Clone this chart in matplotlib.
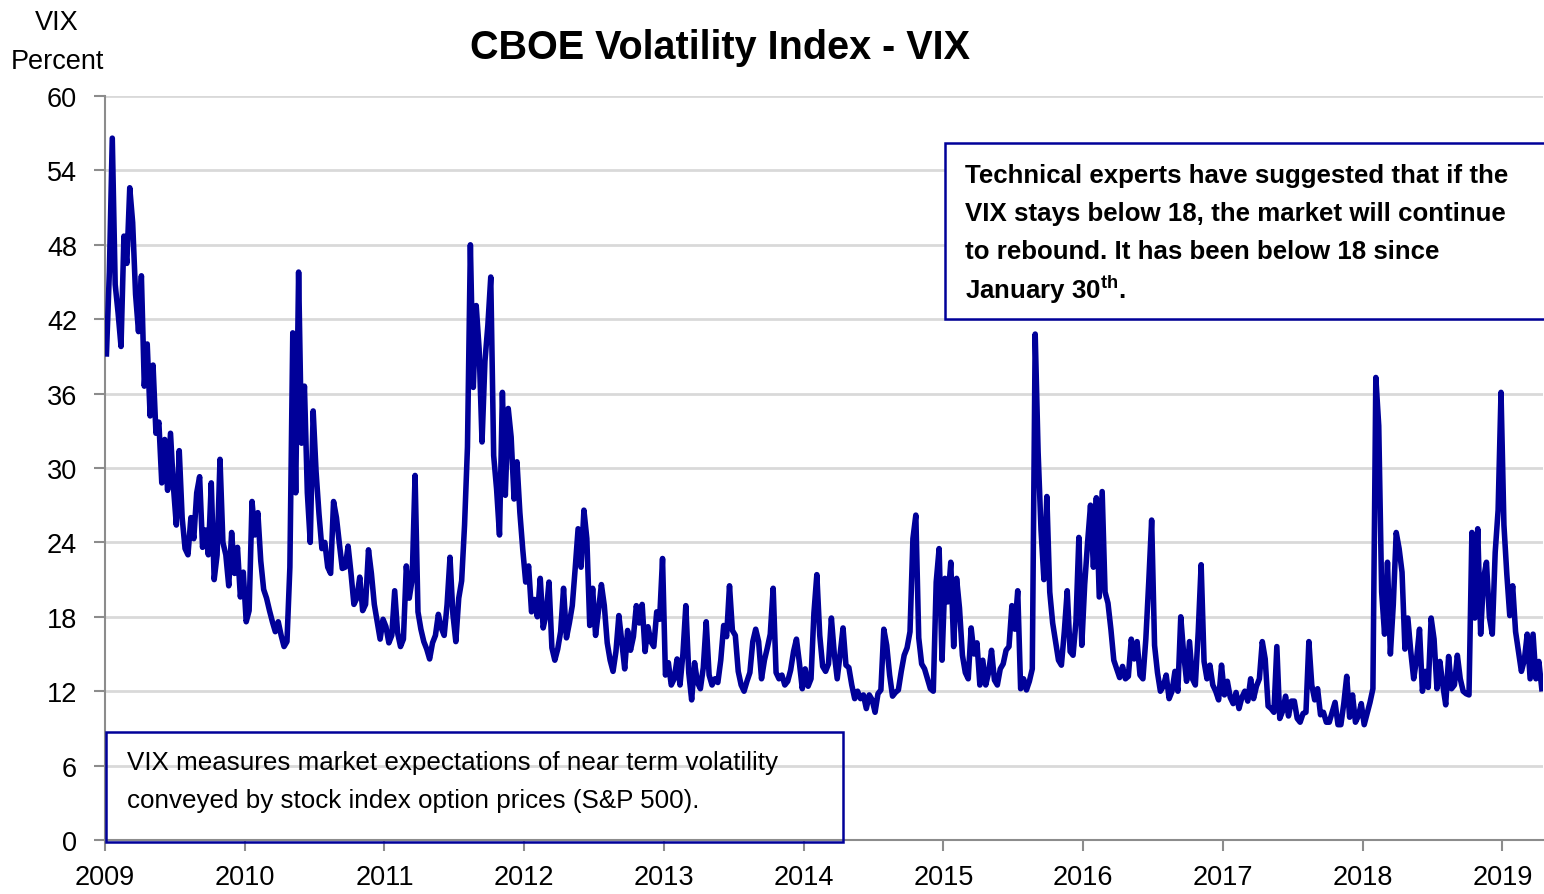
import matplotlib.pyplot as plt
from matplotlib.patches import Rectangle

# weekly-ish VIX readings (4 per month)
years = list(range(2009, 2020))

vix_2009 = [39.2, 45.8, 56.6, 44.8, 42.5, 39.8, 48.7, 46.5, 52.6, 49.8, 44.0, 41.0,
            45.5, 36.6, 40.0, 34.2, 38.3, 32.8, 33.7, 28.8, 32.3, 28.2, 32.8, 28.5,
            25.4, 31.4, 26.0, 23.5, 23.0, 26.0, 24.3, 28.0, 29.3, 23.6, 25.0, 23.0,
            28.8, 21.0, 23.0, 30.7, 24.0, 23.0, 20.5, 24.8, 21.5, 23.6, 19.6, 21.6]
vix_2010 = [17.6, 18.5, 27.3, 24.6, 26.4, 22.5, 20.2, 19.5, 18.5, 17.6, 16.8, 17.6,
            16.5, 15.6, 16.0, 22.0, 40.9, 28.0, 45.8, 32.0, 36.6, 28.0, 24.0, 34.6,
            29.7, 26.3, 23.5, 24.0, 22.0, 21.5, 27.3, 26.0, 23.9, 21.9, 22.0, 23.7,
            21.5, 19.0, 19.5, 21.2, 18.5, 19.0, 23.4, 21.5, 19.0, 17.6, 16.2, 17.8]
vix_2011 = [17.2, 15.9, 16.5, 20.1, 16.7, 15.6, 16.2, 22.1, 19.5, 21.0, 29.4, 18.4,
            17.0, 16.0, 15.4, 14.6, 15.9, 16.5, 18.2, 17.1, 16.5, 19.0, 22.8, 18.2,
            16.0, 19.5, 20.9, 25.4, 31.7, 48.0, 36.5, 43.1, 39.6, 32.1, 38.6, 41.5,
            45.4, 31.0, 28.3, 24.6, 36.1, 27.8, 34.8, 32.5, 27.5, 30.5, 26.4, 23.4]
vix_2012 = [20.8, 22.1, 18.4, 19.4, 18.0, 21.1, 17.1, 18.2, 20.8, 15.5, 14.5, 15.4,
            16.8, 20.3, 16.3, 17.5, 18.9, 21.9, 25.1, 22.0, 26.6, 24.3, 17.3, 20.3,
            16.5, 18.5, 20.6, 18.9, 15.9, 14.5, 13.6, 15.2, 18.1, 16.0, 13.8, 16.9,
            15.3, 16.4, 18.9, 17.5, 19.0, 15.2, 17.2, 16.0, 15.6, 18.4, 17.8, 22.7]
vix_2013 = [13.3, 14.3, 12.5, 13.0, 14.6, 12.5, 15.0, 18.9, 13.5, 11.3, 14.3, 12.7,
            12.2, 13.9, 17.6, 13.3, 12.5, 13.0, 12.7, 14.5, 17.3, 16.4, 20.5, 16.9,
            16.5, 13.6, 12.5, 12.0, 12.8, 13.5, 16.0, 17.0, 16.0, 13.0, 14.5, 15.5,
            16.6, 20.3, 13.5, 13.0, 13.3, 12.5, 12.8, 13.7, 15.2, 16.2, 14.3, 12.2]
vix_2014 = [13.8, 12.4, 13.0, 18.3, 21.4, 16.5, 14.0, 13.6, 14.2, 17.9, 15.0, 13.0,
            15.0, 17.1, 14.1, 13.9, 12.5, 11.4, 12.0, 11.4, 11.7, 10.6, 11.7, 11.3,
            10.3, 11.8, 12.1, 17.0, 15.7, 13.3, 11.6, 11.9, 12.1, 13.6, 14.9, 15.5,
            16.8, 24.3, 26.2, 16.3, 14.2, 13.8, 13.0, 12.2, 12.0, 20.8, 23.5, 14.5]
vix_2015 = [21.1, 19.2, 22.4, 15.6, 21.1, 18.7, 14.9, 13.5, 13.0, 17.1, 15.0, 15.9,
            12.5, 14.5, 12.5, 13.5, 15.3, 12.9, 12.5, 13.8, 14.2, 15.3, 15.6, 18.9,
            17.0, 20.1, 12.2, 13.0, 12.1, 12.8, 13.8, 40.8, 31.3, 25.0, 21.0, 27.7,
            20.0, 17.5, 16.0, 14.5, 14.1, 16.8, 20.1, 15.2, 14.9, 17.6, 24.4, 15.7]
vix_2016 = [20.6, 24.0, 27.0, 22.0, 27.6, 19.6, 28.1, 20.0, 19.1, 17.0, 14.5, 13.8,
            13.1, 14.0, 13.0, 13.2, 16.2, 14.6, 16.0, 13.3, 13.0, 16.2, 20.8, 25.8,
            15.7, 13.5, 12.0, 12.4, 13.3, 11.4, 12.0, 13.6, 12.0, 18.0, 15.0, 12.8,
            16.0, 13.0, 12.5, 16.8, 22.2, 14.4, 13.0, 14.1, 12.5, 12.0, 11.3, 14.1]
vix_2017 = [11.7, 12.8, 11.5, 11.0, 11.9, 10.6, 11.5, 12.0, 11.2, 13.0, 11.4, 12.4,
            13.0, 16.0, 14.6, 10.8, 10.6, 10.3, 15.6, 9.8, 10.4, 11.6, 10.0, 11.2,
            11.2, 9.8, 9.5, 10.2, 10.3, 16.0, 12.5, 11.3, 12.2, 10.1, 10.3, 9.5,
            9.5, 10.3, 11.1, 9.3, 9.3, 11.0, 13.2, 9.9, 11.7, 9.5, 10.0, 11.0]
vix_2018 = [9.3, 10.2, 11.1, 12.2, 37.3, 33.4, 20.0, 16.6, 22.4, 15.0, 19.0, 24.8,
            23.5, 21.6, 15.4, 17.9, 15.2, 13.0, 14.6, 17.0, 12.0, 13.6, 12.3, 17.9,
            16.2, 12.2, 14.4, 12.5, 10.9, 14.8, 12.2, 12.5, 14.9, 13.0, 12.0, 11.8,
            11.7, 24.8, 17.9, 25.1, 16.6, 21.1, 22.4, 18.0, 16.6, 23.2, 26.6, 36.1]
vix_2019 = [25.4, 21.4, 18.1, 20.5, 16.8, 15.2, 13.6, 14.5, 16.6, 13.0, 16.6, 13.0,
            14.4, 12.2]

yearly = [vix_2009, vix_2010, vix_2011, vix_2012, vix_2013, vix_2014,
          vix_2015, vix_2016, vix_2017, vix_2018, vix_2019]

dates = []
vix = []
for yr, vals in zip(years, yearly):
    for i, v in enumerate(vals):
        dates.append(yr + (i + 0.5) / 48)
        vix.append(v)

y_ticks = list(range(0, 61, 6))

note_top = ['Technical experts have suggested that if the',
            'VIX stays below 18, the market will continue',
            'to rebound. It has been below 18 since',
            r'January 30$^{\mathbf{th}}$.']
note_bottom = ['VIX measures market expectations of near term volatility',
               'conveyed by stock index option prices (S&P 500).']

plt.rcParams['font.family'] = ['Liberation Sans', 'DejaVu Sans']
plt.rcParams['mathtext.fontset'] = 'custom'
plt.rcParams['mathtext.rm'] = 'Liberation Sans'
plt.rcParams['mathtext.bf'] = 'Liberation Sans:bold'

W, H = 1544, 895
fig = plt.figure(figsize=(W / 100, H / 100), dpi=100)
ax = fig.add_axes([105 / W, 1 - 841 / H, (1543 - 105) / W, (841 - 97) / H])

ax.plot(dates, vix, color='#000099', lw=4.0, solid_joinstyle='round', zorder=3)

ax.set_xlim(2009, 2019.29)
ax.set_ylim(0, 60)
ax.set_yticks(y_ticks)
ax.set_xticks(years)
ax.set_xticklabels([str(y) for y in years])
ax.grid(axis='y', color='#d9d9d9', lw=2)
ax.set_axisbelow(True)
for s in ['top', 'right']:
    ax.spines[s].set_visible(False)
for s in ['left', 'bottom']:
    ax.spines[s].set_color('#8c8c8c')
    ax.spines[s].set_linewidth(1.5)
ax.tick_params(axis='both', labelsize=19.5, color='#8c8c8c', width=1.5, length=8)
ax.tick_params(axis='x', pad=9)
ax.tick_params(axis='y', pad=12)

fig.text(57 / W, 1 - 23 / H, 'VIX', ha='center', va='center', fontsize=19.5)
fig.text(57 / W, 1 - 62 / H, 'Percent', ha='center', va='center', fontsize=19.5)
fig.text(720 / W, 1 - 48 / H, 'CBOE Volatility Index - VIX', ha='center',
         va='center', fontsize=28.5, fontweight='bold')

# upper right note box
fig.add_artist(Rectangle((945 / W, 1 - 320 / H), (1560 - 945) / W, 176 / H,
                         transform=fig.transFigure, facecolor='white',
                         edgecolor='#000099', lw=1.8, zorder=4))
for i, line in enumerate(note_top):
    fig.text(965 / W, 1 - (176 + 38 * i) / H, line, ha='left', va='center',
             fontsize=18.6, fontweight='bold', zorder=5)

# lower left note box
fig.add_artist(Rectangle((106 / W, 1 - 843 / H), (843 - 106) / W, 110 / H,
                         transform=fig.transFigure, facecolor='none',
                         edgecolor='#000099', lw=1.8, zorder=4))
for i, line in enumerate(note_bottom):
    fig.text(127 / W, 1 - (763 + 38 * i) / H, line, ha='left', va='center',
             fontsize=18.7, zorder=5)

plt.savefig('out.png', dpi=100)
